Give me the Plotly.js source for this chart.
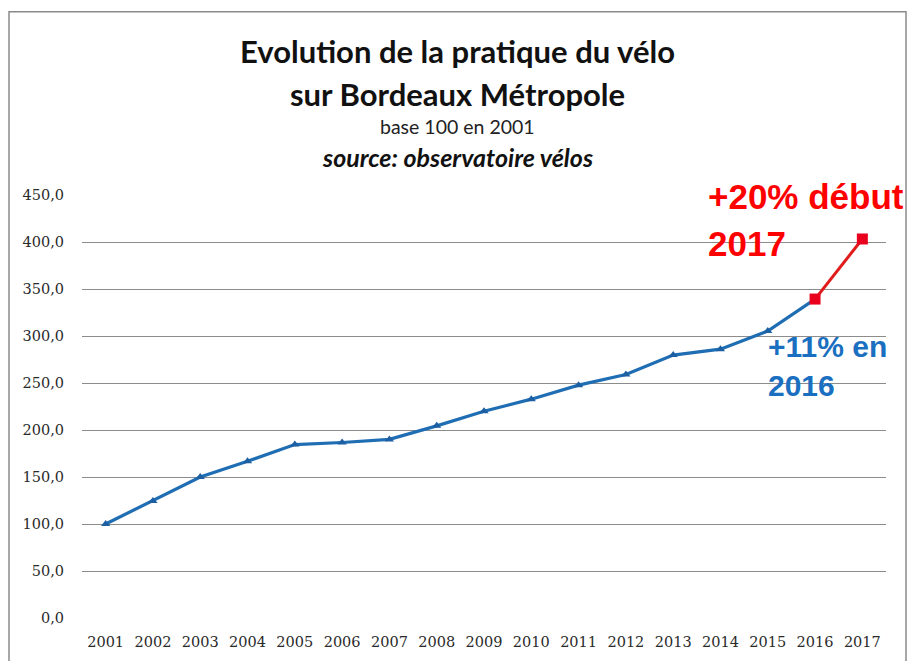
<!DOCTYPE html>
<html><head><meta charset="utf-8">
<script src="https://cdn.plot.ly/plotly-3.0.1.min.js"></script>
<style>body{margin:0;background:#fff}#c{width:910px;height:661px}</style>
</head><body><div id="c"></div>
<script>
const years = ["2001","2002","2003","2004","2005","2006","2007","2008","2009","2010","2011","2012","2013","2014","2015","2016"];
const values = [100,124.6,150,166.8,184.5,186.7,190,204.4,220,232.8,247.7,259,279.7,286,305.2,339.3];
const redYears = ["2016","2017"];
const redValues = [339.3,403.2];
const yTicks = [0,50,100,150,200,250,300,350,400,450];
const allYears = years.concat(["2017"]);

const Y0 = 617.7, PH = 422.7, X0 = 82, PW = 804;
const py = v => (Y0 - v) / PH;
const px = v => (v - X0) / PW;

const tickFont = {family:"DejaVu Serif, serif", size:14.5, color:"#2a2a2a"};
const lato = "Lato, Carlito, Calibri, sans-serif";
const traces = [
  {x:years, y:values, type:"scatter", mode:"lines+markers",
   line:{color:"#1f6db3", width:3.2}, marker:{symbol:"triangle-up", size:8, color:"#1d5fa3"}, hoverinfo:"x+y"},
  {x:redYears, y:redValues, type:"scatter", mode:"lines+markers",
   line:{color:"#e01b1b", width:3}, marker:{symbol:"square", size:11, color:"#e8001c"}, hoverinfo:"x+y"}
];
function ann(text, x, y, anchor, font){
  return {xref:"paper", yref:"paper", x:x, y:y, xanchor:anchor, yanchor:"middle", showarrow:false, text:text, font:font};
}
const layout = {
  width:910, height:661,
  margin:{l:82, r:24, t:195, b:43},
  paper_bgcolor:"#fff", plot_bgcolor:"#fff",
  showlegend:false,
  separators:",.",
  xaxis:{type:"category", categoryorder:"array", categoryarray:allYears, range:[-0.5,16.5],
    showgrid:false, zeroline:false, showline:false, ticks:"", ticklabelstandoff:13, tickfont:tickFont, fixedrange:true},
  yaxis:{range:[0,450], tickvals:yTicks, tickformat:".1f", showgrid:true, gridcolor:"#8c8c8c", gridwidth:1,
    zeroline:false, showline:false, ticks:"", ticklabelstandoff:17, tickfont:tickFont, fixedrange:true},
  annotations:[
    ann("<b>Evolution de la pratique du vélo</b>", px(457), py(51), "center", {family:lato, size:31, color:"#111"}),
    ann("<b>sur Bordeaux Métropole</b>", px(457), py(94), "center", {family:lato, size:31, color:"#111"}),
    ann("base 100 en 2001", px(457), py(127), "center", {family:lato, size:19.5, color:"#222"}),
    ann("<b><i>source: observatoire vélos</i></b>", px(457), py(157), "center", {family:lato, size:25, color:"#111"}),
    ann("<b>+20% début</b>", px(706), py(196), "left", {family:"Liberation Sans, Arial, sans-serif", size:35, color:"#ff0000"}),
    ann("<b>2017</b>", px(706), py(243), "left", {family:"Liberation Sans, Arial, sans-serif", size:35, color:"#ff0000"}),
    ann("<b>+11% en</b>", px(766), py(346), "left", {family:"Liberation Sans, Arial, sans-serif", size:30, color:"#1a6fc0"}),
    ann("<b>2016</b>", px(766), py(385), "left", {family:"Liberation Sans, Arial, sans-serif", size:30, color:"#1a6fc0"})
  ],
  shapes:[
    {type:"rect", xref:"paper", yref:"paper", x0:px(9), x1:px(906), y0:-0.3, y1:py(12),
     line:{color:"#8a8a8a", width:1.5}, fillcolor:"rgba(0,0,0,0)", layer:"below"}
  ]
};
Plotly.newPlot("c", traces, layout, {displayModeBar:false, staticPlot:true});
</script></body></html>
